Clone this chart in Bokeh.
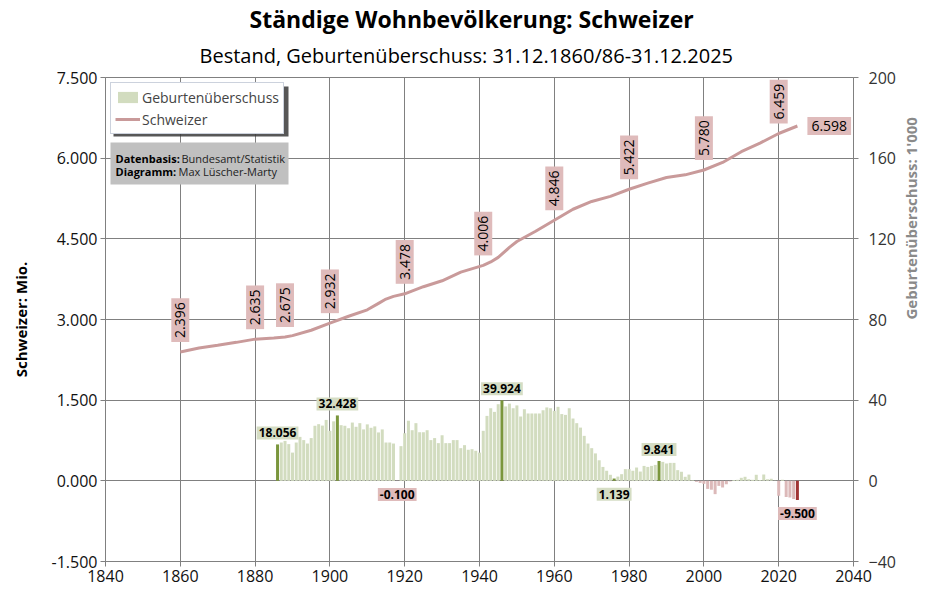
import math
from bokeh.plotting import figure
from bokeh.models import (Range1d, LinearAxis, FixedTicker, NumeralTickFormatter, ColumnDataSource,
                          Label, Legend, LegendItem, Title, BoxAnnotation)
from bokeh.embed import file_html
from bokeh.resources import INLINE

# ---------------- data ----------------
title_text = "Ständige Wohnbevölkerung: Schweizer"
subtitle_text = "Bestand, Geburtenüberschuss: 31.12.1860/86-31.12.2025"

# Schweizer population (millions)
pop_years = [1860, 1865, 1870, 1875, 1880, 1885, 1888, 1890, 1895, 1900, 1905, 1910, 1913, 1915,
             1917, 1920, 1925, 1930, 1935, 1941, 1943, 1945, 1948, 1950, 1955, 1960, 1965, 1970,
             1975, 1980, 1985, 1990, 1995, 2000, 2005, 2010, 2015, 2020, 2025]
pop_values = [2.396, 2.47, 2.52, 2.575, 2.635, 2.655, 2.675, 2.70, 2.80, 2.932, 3.06, 3.18, 3.30, 3.38,
              3.43, 3.478, 3.61, 3.72, 3.88, 4.006, 4.07, 4.155, 4.34, 4.45, 4.64, 4.846, 5.05, 5.195,
              5.29, 5.422, 5.535, 5.64, 5.69, 5.780, 5.92, 6.12, 6.28, 6.459, 6.598]
pop_label_years = [1860, 1880, 1888, 1900, 1920, 1941, 1960, 1980, 2000, 2020]
pop_last_year = 2025

# Geburtenüberschuss (1'000), 1886-2025
bar_years = list(range(1886, 2026))
bar_values = [
    18.056, 19.0, 19.8, 18.2, 14.0, 19.0, 21.8, 20.2, 18.5, 21.2,          # 1886-1895
    27.3, 28.1, 27.4, 30.2, 24.8, 29.5, 32.428, 27.6, 27.3, 26.1,          # 1896-1905
    28.9, 26.8, 28.6, 25.5, 28.0, 26.3, 27.0, 24.0, 25.5, 19.0,            # 1906-1915
    19.0, 18.5, -0.100, 17.2, 23.6, 29.8, 25.1, 28.6, 24.1, 24.1,          # 1916-1925
    25.1, 20.2, 21.2, 18.7, 22.6, 18.7, 18.7, 20.2, 20.2, 16.2,            # 1926-1935
    17.7, 15.4, 15.7, 14.9, 14.0, 24.8, 32.2, 36.0, 34.2, 38.0,            # 1936-1945
    39.924, 36.9, 38.3, 36.0, 37.4, 31.9, 35.5, 33.4, 33.4, 33.4,          # 1946-1955
    33.4, 35.0, 36.4, 36.0, 34.7, 36.7, 33.1, 32.7, 36.0, 30.9,            # 1956-1965
    28.6, 26.4, 22.3, 18.5, 16.2, 13.6, 10.2, 6.9, 5.0, 3.0,               # 1966-1975
    1.139, 2.1, 3.3, 5.8, 5.8, 5.0, 6.6, 4.6, 7.4, 6.9,                    # 1976-1985
    7.4, 7.9, 9.841, 9.4, 8.6, 8.9, 8.9, 5.3, 4.5, 2.0,                    # 1986-1995
    3.1, 0.3, -0.5, -1.0, -1.5, -4.0, -4.4, -6.6, -2.5, -3.3,              # 1996-2005
    -1.7, -0.3, 0.4, 0.5, 1.5, 2.0, 0.8, 0.5, 3.0, 0.4,                    # 2006-2015
    3.2, 0.8, 1.0, 0.2, -7.4, 0.5, -8.0, -8.3, -9.0, -9.500,               # 2016-2025
]
bar_label_years = [1886, 1902, 1918, 1946, 1976, 1988, 2025]
bar_label_below = [1918, 1976, 2025]

x_ticks = list(range(1840, 2041, 20))
left_ticks = [-1.5, 0.0, 1.5, 3.0, 4.5, 6.0, 7.5]
right_ticks = [-40, 0, 40, 80, 120, 160, 200]

# ---------------- style ----------------
FONT = "Open Sans"
C_BAR = "#d2dcbf"
C_BAR_HI = "#7a963c"
C_NEG = "#dcb9b9"
C_NEG_HI = "#a03434"
C_LINE = "#c99a9a"
C_LAB_G = "#d5ddc4"
C_LAB_R = "#dfbbbb"
C_GRID = "#808080"

FW, FH = 748, 484
X0, X1, Y0, Y1 = 1840, 2040, -1.5, 7.5


def fx(px):  # frame pixel -> data x
    return X0 + px * (X1 - X0) / FW


def fy(py):  # frame pixel from top -> data y
    return Y1 - py * (Y1 - Y0) / FH


p = figure(frame_width=FW, frame_height=FH, output_backend="svg", toolbar_location=None,
           x_range=Range1d(X0, X1), y_range=Range1d(Y0, Y1),
           min_border_left=105, min_border_right=72, min_border_top=76, min_border_bottom=30)
p.extra_y_ranges = {"bars": Range1d(-40, 200)}
p.outline_line_color = C_GRID
p.background_fill_color = "white"

p.title.text = title_text
p.title.align = "left"
p.title.offset = 144
p.title.text_font = FONT
p.title.text_font_size = "23px"
p.title.text_font_style = "bold"
p.title.text_color = "black"
p.title.standoff = 0
sub = Title(text=subtitle_text, align="left", offset=94, vertical_align="top",
            text_font=FONT, text_font_size="20px", text_font_style="normal", text_color="black",
            standoff=14)
p.add_layout(sub, "above")

# axes
for ax in (p.xaxis[0], p.yaxis[0]):
    ax.axis_line_color = C_GRID
    ax.major_tick_line_color = C_GRID
    ax.major_tick_out = 5
    ax.major_tick_in = 0
    ax.minor_tick_line_color = None
    ax.major_label_text_font = FONT
    ax.major_label_text_font_size = "16px"
    ax.major_label_text_color = "#111111"
    ax.major_label_standoff = 3
p.xaxis.ticker = FixedTicker(ticks=x_ticks)
p.yaxis.ticker = FixedTicker(ticks=left_ticks)
p.yaxis.formatter = NumeralTickFormatter(format="0.000")
p.yaxis.axis_label = "Schweizer: Mio."
p.yaxis.axis_label_standoff = 18
p.yaxis.axis_label_text_font = FONT
p.yaxis.axis_label_text_font_size = "15px"
p.yaxis.axis_label_text_font_style = "bold"
p.yaxis.axis_label_text_color = "black"

rax = LinearAxis(y_range_name="bars", ticker=FixedTicker(ticks=right_ticks),
                 axis_label="Geburtenüberschuss: 1'000")
rax.axis_line_color = C_GRID
rax.major_tick_line_color = C_GRID
rax.major_tick_out = 5
rax.major_tick_in = 0
rax.minor_tick_line_color = None
rax.major_label_standoff = 10
rax.major_label_text_font = FONT
rax.major_label_text_font_size = "16px"
rax.major_label_text_color = "#333333"
rax.axis_label_standoff = 12
rax.axis_label_orientation = math.pi / 2
rax.axis_label_text_font = FONT
rax.axis_label_text_font_size = "15px"
rax.axis_label_text_font_style = "bold"
rax.axis_label_text_color = "#8a8a8a"
p.add_layout(rax, "right")

p.xgrid.grid_line_color = C_GRID
p.ygrid.grid_line_color = C_GRID
p.xgrid.grid_line_alpha = 1
p.ygrid.grid_line_alpha = 1

# bars
colors = []
for yr, v in zip(bar_years, bar_values):
    hi = yr in bar_label_years
    if v >= 0:
        colors.append(C_BAR_HI if hi else C_BAR)
    else:
        colors.append(C_NEG_HI if (hi and yr != 1918) else C_NEG)
bsrc = ColumnDataSource(dict(x=bar_years, top=bar_values, color=colors))
bars = p.vbar(x="x", top="top", bottom=0, width=0.8, fill_color="color", line_color=None,
              source=bsrc, y_range_name="bars")

# line
line = p.line(pop_years, pop_values, line_color=C_LINE, line_width=3)

# line labels (rotated)
common_lab = dict(text_font=FONT, text_color="black", background_fill_color=C_LAB_R,
                  background_fill_alpha=1, text_font_size="14px", padding=4)
for yr in pop_label_years:
    v = pop_values[pop_years.index(yr)]
    p.add_layout(Label(x=yr, y=v, text=f"{v:.3f}", angle=math.pi / 2,
                       text_align="left", text_baseline="middle", y_offset=10, **common_lab))
v_last = pop_values[pop_years.index(pop_last_year)]
p.add_layout(Label(x=pop_last_year, y=v_last, text=f"{v_last:.3f}", text_align="left",
                   text_baseline="middle", x_offset=10, **common_lab))

# bar labels
for yr in bar_label_years:
    v = bar_values[bar_years.index(yr)]
    below = yr in bar_label_below
    bg = C_LAB_G if v >= 0 else C_LAB_R
    p.add_layout(Label(x=yr, y=v if v < 0 else (0 if below else v), y_range_name="bars",
                       text=f"{v:.3f}", text_align="center",
                       text_baseline="top" if below else "bottom",
                       y_offset=-7 if below else 5, text_font=FONT, text_font_size="12px",
                       text_font_style="bold", text_color="black", padding=2,
                       background_fill_color=bg, background_fill_alpha=1))

# legend shadow
p.add_layout(BoxAnnotation(left=fx(8), right=fx(183), top=fy(9), bottom=fy(59),
                           fill_color="#3a3a3a", fill_alpha=0.85, line_color=None))
legend = Legend(items=[LegendItem(label="Geburtenüberschuss", renderers=[bars], index=1),
                       LegendItem(label="Schweizer", renderers=[line])],
                location="top_left", margin=5, padding=4, spacing=2,
                label_text_font=FONT, label_text_font_size="14px", label_height=20,
                glyph_width=25, glyph_height=14, label_standoff=2,
                border_line_color="#9aa6bc", border_line_width=1,
                background_fill_color="white", background_fill_alpha=1)
p.add_layout(legend)

# info box
p.add_layout(BoxAnnotation(left=fx(5), right=fx(183), top=fy(65), bottom=fy(107),
                           fill_color="#c0c0c0", fill_alpha=1, line_color=None))
for i, (b, n, off) in enumerate([("Datenbasis:", "Bundesamt/Statistik", 66),
                                 ("Diagramm:", "Max Lüscher-Marty", 63)]):
    yy = fy(81 + 13 * i)
    p.add_layout(Label(x=fx(10), y=yy, text=b, text_font=FONT, text_font_size="11px",
                       text_font_style="bold", text_baseline="middle", text_color="black"))
    p.add_layout(Label(x=fx(10), y=yy, x_offset=off, text=n, text_font=FONT, text_font_size="11px",
                       text_baseline="middle", text_color="#222222"))

open("out.html", "w").write(file_html(p, INLINE))
